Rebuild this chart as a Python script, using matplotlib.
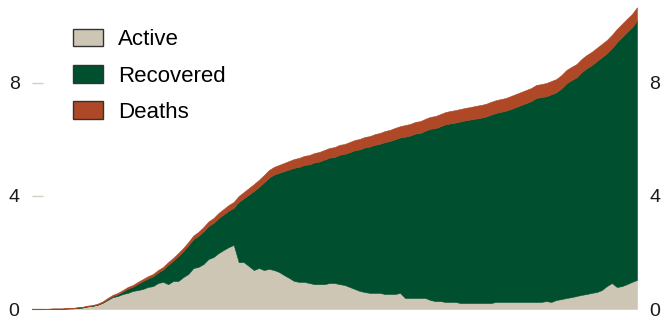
import numpy as np
import matplotlib
matplotlib.use("Agg")
import matplotlib.pyplot as plt

plt.rcParams['font.family'] = ['Liberation Sans', 'DejaVu Sans']

# cumulative cases (millions), one value per period
active = [0.00, 0.00, 0.00, 0.00, 0.01, 0.01, 0.01, 0.02, 0.02, 0.04,
          0.05, 0.09, 0.11, 0.15, 0.22, 0.32, 0.42, 0.46, 0.53, 0.57,
          0.64, 0.67, 0.71, 0.78, 0.81, 0.92, 0.96, 0.88, 0.99, 0.99,
          1.13, 1.24, 1.45, 1.49, 1.59, 1.77, 1.84, 1.98, 2.09, 2.19,
          2.27, 1.66, 1.66, 1.52, 1.38, 1.45, 1.38, 1.42, 1.38, 1.31,
          1.20, 1.10, 0.99, 0.96, 0.96, 0.92, 0.88, 0.88, 0.88, 0.92,
          0.92, 0.88, 0.85, 0.78, 0.71, 0.64, 0.60, 0.57, 0.57, 0.57,
          0.53, 0.53, 0.53, 0.57, 0.39, 0.39, 0.39, 0.39, 0.39, 0.32,
          0.28, 0.28, 0.25, 0.25, 0.25, 0.21, 0.21, 0.21, 0.21, 0.21,
          0.21, 0.21, 0.25, 0.25, 0.25, 0.25, 0.25, 0.25, 0.25, 0.25,
          0.25, 0.25, 0.28, 0.25, 0.32, 0.35, 0.39, 0.42, 0.46, 0.50,
          0.53, 0.57, 0.60, 0.67, 0.81, 0.92, 0.78, 0.81, 0.88, 0.96, 1.03]

recovered = [0.00, 0.00, 0.00, 0.00, 0.00, 0.00, 0.00, 0.00, 0.01, 0.01,
             0.01, 0.01, 0.01, 0.01, 0.01, 0.03, 0.04, 0.06, 0.09, 0.15,
             0.15, 0.22, 0.28, 0.30, 0.35, 0.37, 0.44, 0.68, 0.72, 0.88,
             0.92, 1.01, 1.02, 1.10, 1.16, 1.17, 1.21, 1.24, 1.26, 1.29,
             1.31, 2.13, 2.26, 2.53, 2.80, 2.87, 3.10, 3.23, 3.38, 3.51,
             3.68, 3.84, 4.01, 4.07, 4.14, 4.20, 4.31, 4.34, 4.41, 4.44,
             4.46, 4.58, 4.64, 4.77, 4.91, 5.01, 5.12, 5.18, 5.24, 5.28,
             5.38, 5.42, 5.48, 5.50, 5.71, 5.75, 5.82, 5.84, 5.92, 6.06,
             6.12, 6.19, 6.29, 6.32, 6.35, 6.43, 6.47, 6.50, 6.53, 6.56,
             6.60, 6.67, 6.69, 6.73, 6.77, 6.83, 6.90, 6.97, 7.04, 7.11,
             7.22, 7.25, 7.25, 7.35, 7.35, 7.46, 7.60, 7.68, 7.74, 7.88,
             7.99, 8.06, 8.17, 8.24, 8.24, 8.31, 8.66, 8.81, 8.92, 9.01, 9.18]

deaths = [0.01, 0.01, 0.01, 0.01, 0.01, 0.01, 0.01, 0.01, 0.01, 0.01,
          0.02, 0.02, 0.02, 0.03, 0.04, 0.04, 0.04, 0.05, 0.05, 0.06,
          0.06, 0.07, 0.07, 0.08, 0.08, 0.09, 0.09, 0.10, 0.10, 0.11,
          0.11, 0.12, 0.13, 0.14, 0.15, 0.16, 0.17, 0.18, 0.19, 0.20,
          0.21, 0.21, 0.22, 0.23, 0.24, 0.25, 0.26, 0.27, 0.27, 0.28,
          0.29, 0.30, 0.31, 0.32, 0.32, 0.33, 0.33, 0.34, 0.34, 0.34,
          0.35, 0.35, 0.35, 0.36, 0.36, 0.37, 0.37, 0.37, 0.38, 0.38,
          0.39, 0.39, 0.40, 0.40, 0.41, 0.41, 0.41, 0.42, 0.42, 0.42,
          0.43, 0.43, 0.43, 0.44, 0.44, 0.44, 0.44, 0.44, 0.45, 0.45,
          0.45, 0.45, 0.45, 0.45, 0.45, 0.46, 0.46, 0.46, 0.46, 0.46,
          0.46, 0.46, 0.47, 0.47, 0.47, 0.47, 0.47, 0.47, 0.47, 0.47,
          0.47, 0.47, 0.47, 0.47, 0.47, 0.47, 0.47, 0.47, 0.47, 0.47, 0.47]

labels = ["Active", "Recovered", "Deaths"]
colors = ["#cdc6b4", "#00502f", "#ae4826"]
yticks = [0, 4, 8]

a = np.array(active)
r = np.array(recovered)
d = np.array(deaths)
x = np.arange(len(a))

fig = plt.figure(figsize=(6.64, 3.2), dpi=100)
ax = fig.add_axes([32/664, 11/320, 605/664, 304/320])

polys = ax.stackplot(x, a, r, d, colors=colors, labels=labels)
for p, c in zip(polys, colors):
    p.set_edgecolor(c)
    p.set_linewidth(0.4)
ax.axhline(0, color="#e6e2d8", lw=1, zorder=0.8)

ax.set_xlim(x[0], x[-1])
ax.set_ylim(0, 10.76)
ax.set_xticks([])
ax.set_yticks(yticks)
ax.set_yticklabels([str(t) for t in yticks])
for s in ax.spines.values():
    s.set_visible(False)
ax.set_axisbelow(True)
ax.tick_params(axis='y', which='both', direction='in', length=8, width=1,
               color="#d6cfbd", labelsize=14, labelcolor="#1a1a1a", pad=9,
               left=True, right=False, labelleft=True, labelright=True)

handles = [plt.Rectangle((0, 0), 1, 1, facecolor=c, edgecolor="#333333", linewidth=1)
           for c in colors]
fig.legend(handles, labels, loc='upper left', bbox_to_anchor=(73/664, 1 - 29/320),
           frameon=False, fontsize=16, handlelength=1.36, handleheight=0.82,
           handletextpad=0.68, labelspacing=0.67, borderpad=0, borderaxespad=0)

fig.savefig("out.png", dpi=100)
